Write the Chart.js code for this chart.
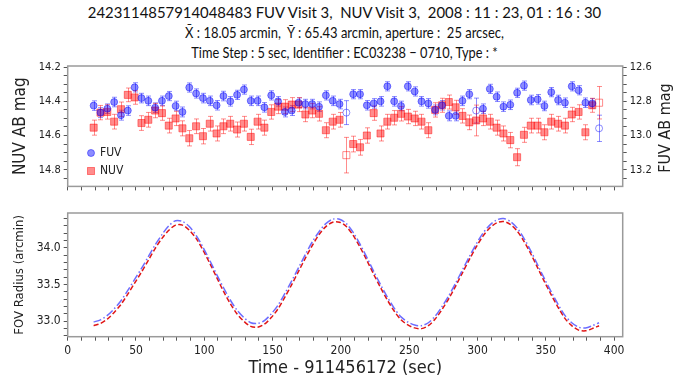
<!DOCTYPE html>
<html>
<head>
<meta charset="utf-8">
<script src="https://cdn.jsdelivr.net/npm/chart.js@4"></script>
<style>
  body { margin: 0; width: 689px; height: 379px; background: #fff; position: relative; overflow: hidden; }
  .linha { position: absolute; left: 0; width: 689px; text-align: center; font-family: Lato, sans-serif;
           font-size: 16px; line-height: 20px; color: #111; white-space: nowrap; transform-origin: 344.5px 50%; }
  #l1 { top: 2px; transform: scaleX(0.93); }
  #l2 { top: 22px; transform: scaleX(0.81); }
  #l3 { top: 42px; transform: scaleX(0.80); }
  canvas { position: absolute; left: 0; }
  #grafTopo { top: 56px; }
  #grafBase { top: 200px; }
</style>
</head>
<body>
<div class="linha" id="l1">2423114857914048483 FUV Visit 3,&nbsp; NUV Visit 3,&nbsp; 2008 : 11 : 23, 01 : 16 : 30</div>
<div class="linha" id="l2">X̄ : 18.05 arcmin,&nbsp; Ȳ : 65.43 arcmin, aperture :&nbsp; 25 arcsec,</div>
<div class="linha" id="l3">Time Step : 5 sec, Identifier : EC03238 − 0710, Type : *</div>
<canvas id="grafTopo" width="689" height="140"></canvas>
<canvas id="grafBase" width="689" height="179"></canvas>
<script>
// Tempos (s) depois de 911456172
const tempos = [19,24,29,34,39,44,49,54,59,64,69,74,79,84,89,94,99,104,109,114,119,124,129,134,139,
  144,149,154,159,164,169,174,179,184,189,194,199,204,209,214,219,224,229,234,239,244,249,254,259,264,
  269,274,279,284,289,294,299,304,309,314,319,324,329,334,339,344,349,354,359,364,369,374,379,384,389];

// Magnitudes FUV (eixo da direita) e erros
const fuvMag = [12.825,12.866,12.843,12.804,12.881,12.854,12.718,12.781,12.797,12.837,
  12.797,12.769,12.827,12.862,12.719,12.754,12.781,12.797,12.823,12.769,
  12.800,12.762,12.731,12.797,12.797,12.835,12.765,12.800,12.862,12.854,
  12.808,12.816,12.816,12.831,12.765,12.797,12.816,12.866,12.758,12.758,
  12.823,12.812,12.800,12.712,12.800,12.827,12.712,12.742,12.800,12.812,
  12.850,12.823,12.885,12.885,12.797,12.758,12.854,12.843,12.727,12.773,
  12.831,12.820,12.750,12.708,12.792,12.788,12.827,12.746,12.792,12.808,
  12.712,12.735,12.808,12.812,12.958];
const fuvErro = [0.028,0.029,0.028,0.028,0.029,0.028,0.027,0.028,0.028,0.028,
  0.028,0.027,0.028,0.029,0.027,0.027,0.028,0.028,0.028,0.028,
  0.028,0.027,0.027,0.028,0.028,0.028,0.027,0.028,0.029,0.029,
  0.028,0.028,0.028,0.028,0.027,0.028,0.028,0.070,0.027,0.027,
  0.028,0.028,0.028,0.027,0.028,0.028,0.027,0.027,0.028,0.028,
  0.029,0.028,0.029,0.029,0.028,0.027,0.073,0.028,0.027,0.028,
  0.028,0.028,0.027,0.027,0.028,0.028,0.028,0.027,0.028,0.028,
  0.027,0.027,0.028,0.028,0.077];
const fuvVazios = [37, 56, 74];

// Magnitudes NUV (eixo da esquerda) e erros
const nuvMag = [14.554,14.466,14.462,14.519,14.446,14.362,14.377,14.527,14.508,14.454,
  14.469,14.542,14.500,14.558,14.616,14.546,14.604,14.531,14.588,14.546,
  14.531,14.565,14.531,14.608,14.519,14.554,14.462,14.431,14.431,14.419,
  14.419,14.477,14.454,14.473,14.569,14.519,14.508,14.715,14.650,14.669,
  14.600,14.469,14.588,14.519,14.496,14.473,14.489,14.500,14.519,14.569,
  14.450,14.423,14.404,14.435,14.485,14.523,14.512,14.500,14.519,14.554,
  14.588,14.627,14.727,14.596,14.542,14.542,14.581,14.519,14.531,14.542,
  14.477,14.462,14.581,14.423,14.408];
const nuvErro = [0.044,0.042,0.042,0.043,0.042,0.040,0.040,0.043,0.043,0.042,
  0.042,0.043,0.042,0.044,0.045,0.043,0.045,0.043,0.044,0.043,
  0.043,0.044,0.043,0.045,0.043,0.044,0.042,0.041,0.041,0.041,
  0.041,0.042,0.042,0.042,0.044,0.043,0.043,0.104,0.046,0.046,
  0.045,0.042,0.044,0.043,0.042,0.042,0.042,0.042,0.043,0.044,
  0.042,0.041,0.041,0.041,0.042,0.043,0.090,0.042,0.043,0.044,
  0.044,0.045,0.050,0.044,0.043,0.043,0.044,0.043,0.043,0.043,
  0.042,0.042,0.044,0.041,0.095];
const nuvVazios = [37, 74];

// Raio no campo de visão (arcmin)
const raioFuv = [32.99,33.02,33.08,33.17,33.28,33.42,33.57,33.72,33.88,34.04,
  34.18,34.30,34.37,34.36,34.29,34.17,34.01,33.83,33.64,33.46,
  33.29,33.15,33.05,32.98,32.97,33.01,33.10,33.22,33.38,33.55,
  33.73,33.91,34.08,34.22,34.33,34.39,34.39,34.33,34.21,34.05,
  33.87,33.68,33.50,33.33,33.18,33.06,32.99,32.95,32.94,32.98,
  33.07,33.20,33.35,33.52,33.70,33.88,34.05,34.20,34.31,34.38,
  34.40,34.36,34.27,34.13,33.96,33.77,33.58,33.40,33.23,33.08,
  32.98,32.92,32.91,32.94,32.98];
const raioNuv = [32.94,32.97,33.03,33.12,33.23,33.37,33.52,33.67,33.83,33.99,
  34.13,34.24,34.31,34.31,34.24,34.13,33.97,33.79,33.60,33.41,
  33.24,33.10,33.00,32.93,32.92,32.96,33.05,33.17,33.33,33.50,
  33.68,33.86,34.03,34.18,34.29,34.35,34.35,34.29,34.17,34.01,
  33.83,33.64,33.46,33.29,33.14,33.02,32.95,32.91,32.90,32.94,
  33.03,33.16,33.31,33.48,33.66,33.84,34.01,34.16,34.27,34.34,
  34.36,34.32,34.23,34.09,33.92,33.73,33.54,33.36,33.19,33.04,
  32.94,32.88,32.87,32.90,32.94];

const fonte = '"DejaVu Sans Condensed", "Liberation Sans", sans-serif';
Chart.defaults.font.family = fonte;
Chart.defaults.color = '#222';

const azul = 'rgba(0,0,255,0.45)';
const vermelho = 'rgba(255,0,0,0.45)';

function pontos(ys) {
  return tempos.map((t, i) => ({ x: t, y: ys[i] }));
}

// marca maior a cada "passo", menor no resto
function rotulo(passo, casas) {
  return v => Math.abs(v / passo - Math.round(v / passo)) < 1e-6 ? v.toFixed(casas) : '';
}

function marcas(passo, tamanho, callback) {
  return { autoSkip: false, includeBounds: false, maxRotation: 0, minRotation: 0,
           stepSize: passo, padding: 3, font: { size: tamanho }, callback: callback };
}

function eixo(extra) {
  return Object.assign({
    type: 'linear',
    border: { display: false },
    grid: { drawOnChartArea: false, tickLength: 4, color: '#555' }
  }, extra);
}

// Barras de erro desenhadas pela escala do próprio gráfico
const barrasErro = {
  id: 'barrasErro',
  beforeDatasetsDraw(chart) {
    const ctx = chart.ctx;
    chart.data.datasets.forEach(ds => {
      if (!ds.erros) return;
      const escX = chart.scales.x;
      const escY = chart.scales[ds.yAxisID];
      ctx.save();
      ctx.strokeStyle = ds.corErro;
      ctx.lineWidth = 1;
      ds.data.forEach((p, j) => {
        const x = Math.round(escX.getPixelForValue(p.x)) + 0.5;
        const y1 = escY.getPixelForValue(p.y - ds.erros[j]);
        const y2 = escY.getPixelForValue(p.y + ds.erros[j]);
        ctx.beginPath();
        ctx.moveTo(x, y1); ctx.lineTo(x, y2);
        ctx.moveTo(x - 2.5, y1); ctx.lineTo(x + 2.5, y1);
        ctx.moveTo(x - 2.5, y2); ctx.lineTo(x + 2.5, y2);
        ctx.stroke();
      });
      ctx.restore();
    });
  }
};

// Moldura cinza em volta da área do gráfico
const moldura = {
  id: 'moldura',
  afterDraw(chart) {
    const a = chart.chartArea, ctx = chart.ctx;
    ctx.save();
    ctx.strokeStyle = '#9a9a9a';
    ctx.lineWidth = 1.5;
    ctx.strokeRect(a.left, a.top, a.right - a.left, a.bottom - a.top);
    ctx.restore();
  }
};

// Legenda e título do eixo direito do painel de cima
const extrasTopo = {
  id: 'extrasTopo',
  afterDraw(chart) {
    const ctx = chart.ctx;
    ctx.save();
    ctx.fillStyle = azul; ctx.strokeStyle = azul;
    ctx.beginPath(); ctx.arc(91, 97, 3.5, 0, Math.PI * 2); ctx.fill(); ctx.stroke();
    ctx.fillStyle = vermelho; ctx.strokeStyle = vermelho;
    ctx.fillRect(87.5, 111.5, 7, 7); ctx.strokeRect(87.5, 111.5, 7, 7);
    ctx.fillStyle = '#222';
    ctx.font = '12px ' + fonte;
    ctx.textBaseline = 'middle';
    ctx.fillText('FUV', 100, 97);
    ctx.fillText('NUV', 100, 115);
    ctx.translate(666, 72);
    ctx.rotate(-Math.PI / 2);
    ctx.textAlign = 'center';
    ctx.font = '16px ' + fonte;
    ctx.fillText('FUV AB mag', 0, 0);
    ctx.restore();
  }
};

// Painel de cima: curvas de luz
new Chart(document.getElementById('grafTopo'), {
  type: 'scatter',
  data: {
    datasets: [
      {
        label: 'FUV', data: pontos(fuvMag), yAxisID: 'yFuv',
        erros: fuvErro, corErro: azul,
        pointStyle: 'circle', pointRadius: 3.5, borderWidth: 1,
        borderColor: azul,
        backgroundColor: c => fuvVazios.includes(c.dataIndex) ? 'rgba(0,0,0,0)' : azul
      },
      {
        label: 'NUV', data: pontos(nuvMag), yAxisID: 'yNuv',
        erros: nuvErro, corErro: vermelho,
        pointStyle: 'rect', pointRadius: 5, borderWidth: 1,
        borderColor: vermelho,
        backgroundColor: c => nuvVazios.includes(c.dataIndex) ? 'rgba(0,0,0,0)' : vermelho
      }
    ]
  },
  options: {
    responsive: false,
    animation: false,
    layout: { padding: { top: 10, left: 0, right: 0, bottom: 0 } },
    plugins: { legend: { display: false }, tooltip: { enabled: false } },
    scales: {
      x: eixo({
        position: 'bottom', min: 0, max: 406.3,
        afterFit: s => { s.height = 8; },
        ticks: marcas(10, 11, () => '')
      }),
      yNuv: eixo({
        position: 'left', reverse: true, min: 14.193, max: 14.898,
        afterFit: s => { s.width = 67.7; },
        title: { display: true, text: 'NUV AB mag', font: { size: 17 }, padding: { top: 10, bottom: 0 } },
        ticks: marcas(0.05, 11, rotulo(0.2, 1))
      }),
      yFuv: eixo({
        position: 'right', reverse: true, min: 12.593, max: 13.298,
        afterFit: s => { s.width = 66.3; },
        ticks: marcas(0.05, 11, rotulo(0.2, 1))
      })
    }
  },
  plugins: [barrasErro, moldura, extrasTopo]
});

// Painel de baixo: raio no campo de visão
new Chart(document.getElementById('grafBase'), {
  type: 'line',
  data: {
    datasets: [
      {
        label: 'FUV', data: pontos(raioFuv), borderColor: 'rgba(60,60,255,0.75)',
        borderWidth: 1.5, borderDash: [8, 2.5, 1.5, 2.5], pointRadius: 0, tension: 0.3
      },
      {
        label: 'NUV', data: pontos(raioNuv), borderColor: '#e01515',
        borderWidth: 1.5, borderDash: [5, 2.5], pointRadius: 0, tension: 0.3
      }
    ]
  },
  options: {
    responsive: false,
    animation: false,
    layout: { padding: { top: 13, left: 0, right: 66.3, bottom: 0 } },
    plugins: { legend: { display: false }, tooltip: { enabled: false } },
    scales: {
      x: eixo({
        position: 'bottom', min: 0, max: 406.3,
        afterFit: s => { s.height = 42.3; },
        title: { display: true, text: 'Time - 911456172 (sec)', font: { size: 18 }, padding: { top: 0, bottom: 0 } },
        ticks: marcas(10, 12, rotulo(50, 0))
      }),
      y: eixo({
        position: 'left', min: 32.79, max: 34.475,
        afterFit: s => { s.width = 67.7; },
        title: { display: true, text: 'FOV Radius (arcmin)', font: { size: 13 }, padding: { top: 12, bottom: 0 } },
        ticks: marcas(0.1, 12, rotulo(0.5, 1))
      })
    }
  },
  plugins: [moldura]
});
</script>
</body>
</html>
